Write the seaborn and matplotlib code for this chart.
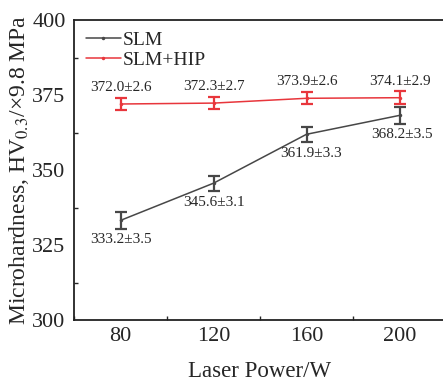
import matplotlib
matplotlib.use("Agg")
import matplotlib.pyplot as plt
import seaborn as sns
import pandas as pd
from matplotlib.ticker import MultipleLocator

sns.set_style("white")
plt.rcParams['font.family'] = ['Liberation Serif', 'DejaVu Serif']
plt.rcParams['mathtext.fontset'] = 'stix'

power = [80, 120, 160, 200]
slm = [333.2, 345.6, 361.9, 368.2]
slm_sd = [3.5, 3.1, 3.3, 3.5]
hip = [372.0, 372.3, 373.9, 374.1]
hip_sd = [2.6, 2.7, 2.6, 2.9]
# error-bar half-lengths as drawn in the figure
slm_err_drawn = [2.7, 2.5, 2.4, 2.8]
hip_err_drawn = [2.0, 2.0, 2.0, 2.2]

c_slm = '#474747'
c_hip = '#e8363c'

df = pd.DataFrame({
    'power': power * 2,
    'hv': slm + hip,
    'group': ['SLM'] * 4 + ['SLM+HIP'] * 4,
})

fig = plt.figure(figsize=(4.43, 3.81), dpi=100)
ax = fig.add_axes([74/443, 1 - 320/381, 372/443, 300/381])

sns.lineplot(data=df, x='power', y='hv', hue='group',
             palette={'SLM': c_slm, 'SLM+HIP': c_hip},
             marker='o', markersize=2.5, markeredgewidth=0, linewidth=1.1,
             ax=ax)

ax.errorbar(power, slm, yerr=slm_err_drawn, fmt='none', ecolor=c_slm,
            elinewidth=1.6, capsize=4, capthick=1.6, zorder=3)
ax.errorbar(power, hip, yerr=hip_err_drawn, fmt='none', ecolor=c_hip,
            elinewidth=1.6, capsize=4, capthick=1.6, zorder=3)

for x, y, s in zip(power, hip, hip_sd):
    ax.annotate(f"{y:.1f}±{s}", (x, y), xytext=(0, 12), textcoords='offset points',
                ha='center', va='center', fontsize=11)
slm_dx = [0, 0, 3, 2]
for x, y, s, dx in zip(power, slm, slm_sd, slm_dx):
    ax.annotate(f"{y:.1f}±{s}", (x, y), xytext=(dx, -14), textcoords='offset points',
                ha='center', va='center', fontsize=11)

ax.set_xlim(60, 220)
ax.set_ylim(300, 400)
ax.set_xticks(power)
ax.set_yticks([300, 325, 350, 375, 400])
ax.xaxis.set_minor_locator(MultipleLocator(20))
ax.yaxis.set_minor_locator(MultipleLocator(12.5))
ax.tick_params(axis='x', which='major', direction='in', length=4, width=1, labelsize=16, pad=5)
ax.tick_params(axis='x', which='minor', direction='in', length=3, width=1, bottom=True)
ax.tick_params(axis='y', which='major', direction='out', length=4, width=1, labelsize=16, pad=2)
ax.tick_params(axis='y', which='minor', direction='in', length=3, width=1, left=True)

for sp in ['left', 'bottom', 'top']:
    ax.spines[sp].set_color('#222222')
    ax.spines[sp].set_linewidth(1.3)
ax.spines['right'].set_visible(False)

ax.set_xlabel('Laser Power/W', fontsize=16.5, labelpad=11)
ax.set_ylabel('Microhardness, HV$_{0.3}$/×9.8 MPa', fontsize=17, labelpad=1)

leg = ax.legend(loc='upper left', frameon=False, fontsize=14, handlelength=1.8,
                handletextpad=0.1, borderaxespad=0.2, labelspacing=0.1)

fig.savefig('out.png', dpi=100)
